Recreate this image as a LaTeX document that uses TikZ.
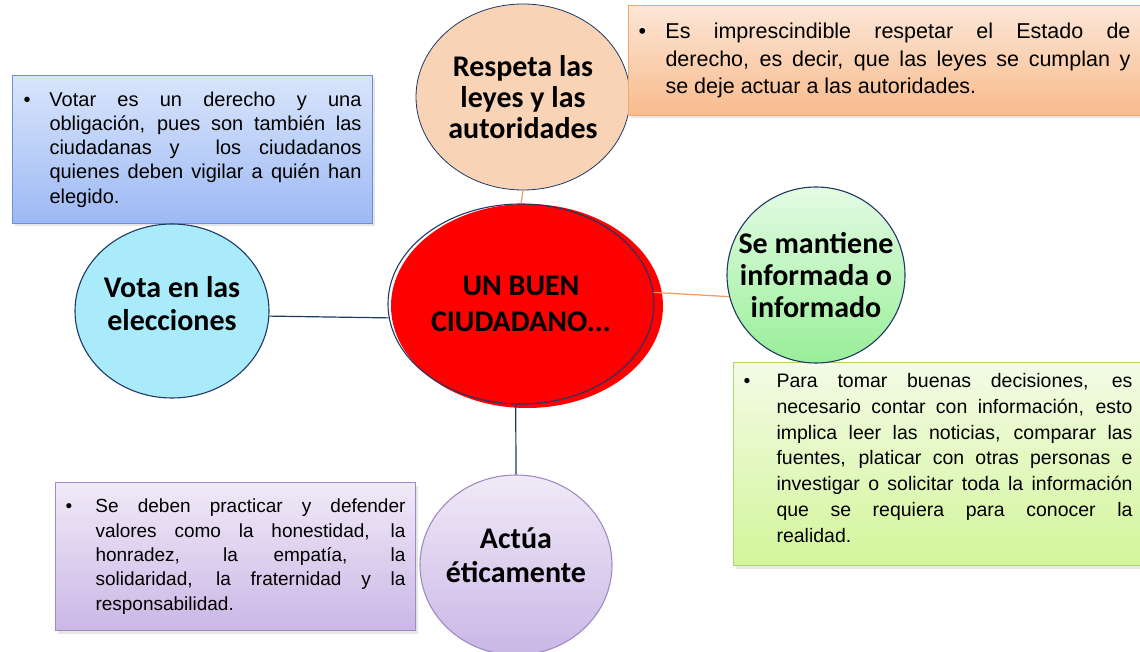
\documentclass[tikz,border=0pt]{standalone}
\usepackage{fontspec}
\setmainfont{Liberation Sans}
\newfontfamily\titulo{Carlito}
\usetikzlibrary{shapes.geometric,shadows}

\definecolor{marino}{HTML}{1F3864}
\definecolor{naranja}{HTML}{F39A55}
\definecolor{azulsup}{HTML}{D9E5FB}
\definecolor{azulinf}{HTML}{9DB9F4}
\definecolor{azulborde}{HTML}{6E8FD6}
\definecolor{durazsup}{HTML}{FCE6D6}
\definecolor{durazinf}{HTML}{F8BB8C}
\definecolor{durazborde}{HTML}{F2A670}
\definecolor{verdesup}{HTML}{F3FBE6}
\definecolor{verdeinf}{HTML}{D3F59A}
\definecolor{verdeborde}{HTML}{B3D36E}
\definecolor{lilasup}{HTML}{F0EAF7}
\definecolor{lilainf}{HTML}{CAB7E6}
\definecolor{lilaborde}{HTML}{9F8AC4}
\definecolor{durazno}{HTML}{F9D3B6}
\definecolor{celeste}{HTML}{A9EBFB}
\definecolor{mentasup}{HTML}{E4FBE4}
\definecolor{mentainf}{HTML}{98EF98}
\definecolor{rojo}{HTML}{FF0000}

% vineta: ancho de la vineta, ancho del texto, texto
\newcommand{\vineta}[3]{\makebox[#1][l]{\textbullet}\parbox[t]{#2}{#3}}

\tikzset{
  nota/.style={rectangle, anchor=north west, inner xsep=10pt, inner ysep=0pt, line width=1pt,
    drop shadow={opacity=0.2, shadow xshift=2pt, shadow yshift=-3pt}},
  globo/.style={ellipse, inner xsep=-30pt, inner ysep=-10pt, line width=1.1pt, align=center,
    font=\titulo\bfseries\fontsize{30}{31}\selectfont},
  enlace/.style={line width=1.2pt}
}

\begin{document}
\begin{tikzpicture}[x=1pt,y=-1pt]
  \useasboundingbox (0,0) rectangle (1140,652);

  % notas
  \node[nota, draw=azulborde, top color=azulsup, bottom color=azulinf, minimum width=360pt, minimum height=148pt,
        font=\fontsize{20}{24.3}\selectfont] (notavota) at (12,75)
    {\vineta{26pt}{312pt}{Votar es un derecho y una\linebreak obligación, pues son también las\linebreak ciudadanas y\ \ los ciudadanos\linebreak quienes deben vigilar a quién han\linebreak elegido.}};
  \node[nota, draw=verdeborde, top color=verdesup, bottom color=verdeinf, minimum width=407pt, minimum height=203pt,
        font=\fontsize{19.5}{25.7}\selectfont] (notainfo) at (733,362)
    {\raisebox{6pt}[\height][\depth]{\vineta{33pt}{356pt}{Para tomar buenas decisiones, es\linebreak necesario contar con información, esto\linebreak implica leer las noticias, comparar las\linebreak fuentes, platicar con otras personas e\linebreak investigar o solicitar toda la información\linebreak que se requiera para conocer la\linebreak realidad.}}};
  \node[nota, draw=lilaborde, top color=lilasup, bottom color=lilainf, minimum width=357pt, minimum height=148pt,
        font=\fontsize{19}{24.3}\selectfont] (notaetica) at (55,482)
    {\vineta{30pt}{310pt}{Se deben practicar y defender\linebreak valores como la honestidad, la\linebreak honradez, la empatía, la\linebreak solidaridad, la fraternidad y la\linebreak responsabilidad.}};

  % globos
  \node[globo, draw=marino, line width=0.8pt, fill=durazno, minimum width=214pt, minimum height=186pt] (respeta) at (523,97)
    {Respeta las\\leyes y las\\autoridades};
  \node[globo, draw=marino, fill=celeste, minimum width=194pt, minimum height=174pt,
        font=\titulo\bfseries\fontsize{30}{33}\selectfont, text depth=16pt] (vota) at (172,311)
    {Vota en las\\elecciones};
  \node[ellipse, fill=rojo, minimum width=272pt, minimum height=204pt] (ciudadanofondo) at (527,306) {};
  \node[globo, draw=marino, minimum width=266pt, minimum height=200pt,
        font=\titulo\bfseries\fontsize{30}{36}\selectfont] (ciudadano) at (521,304)
    {UN BUEN\\CIUDADANO...};
  \node[globo, draw=marino, top color=mentasup, bottom color=mentainf, minimum width=178pt, minimum height=176pt,
        font=\titulo\bfseries\fontsize{30}{32}\selectfont] (mantiene) at (816,275)
    {Se mantiene\\informada o\\informado};
  \node[globo, draw=lilaborde, top color=lilasup, bottom color=lilainf, minimum width=192pt, minimum height=180pt,
        font=\titulo\bfseries\fontsize{30}{34}\selectfont, text depth=20pt] (actua) at (516,565)
    {Actúa\\éticamente};

  \node[nota, draw=durazborde, top color=durazsup, bottom color=durazinf, minimum width=512pt, minimum height=110pt,
        font=\fontsize{21.5}{27.5}\selectfont] (notaleyes) at (628,5)
    {\vineta{27pt}{465pt}{Es imprescindible respetar el Estado de\linebreak derecho, es decir, que las leyes se cumplan y\linebreak se deje actuar a las autoridades.}};

  % enlaces
  \draw[enlace, naranja] (respeta.south) -- (ciudadano.north);
  \draw[enlace, marino] (vota.357) -- (ciudadano.186);
  \draw[enlace, naranja] (ciudadano.5) -- (mantiene.194);
  \draw[enlace, marino] (ciudadano.267) -- (actua.north);
\end{tikzpicture}
\end{document}
